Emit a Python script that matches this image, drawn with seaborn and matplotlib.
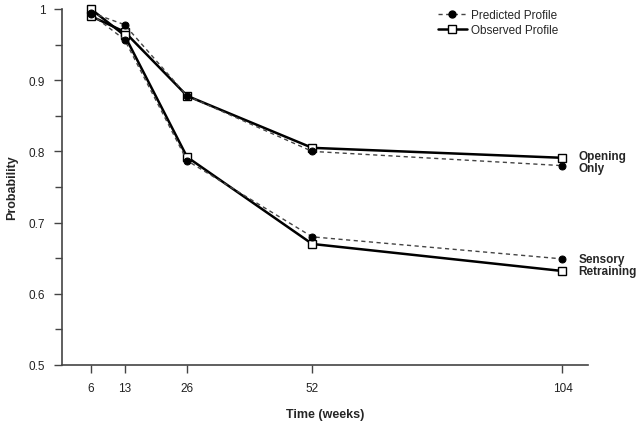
import matplotlib
matplotlib.use("Agg")
import matplotlib.pyplot as plt
from matplotlib.lines import Line2D
from matplotlib.ticker import MultipleLocator
import pandas as pd
import seaborn as sns

weeks = [6, 13, 26, 52, 104]

# Opening Only
opening_observed = [0.990, 0.968, 0.878, 0.805, 0.791]
opening_predicted = [0.995, 0.978, 0.878, 0.800, 0.780]

# Sensory Retraining
sensory_observed = [1.000, 0.963, 0.792, 0.670, 0.632]
sensory_predicted = [0.993, 0.957, 0.787, 0.680, 0.649]

group_labels = ["Opening\nOnly", "Sensory\nRetraining"]

sns.set_style("ticks")
plt.rcParams['font.family'] = ['Liberation Sans', 'DejaVu Sans']

fig = plt.figure(figsize=(6.42, 4.27), dpi=100)
ax = fig.add_axes([62 / 642, 1 - 366 / 427, (588 - 62) / 642, (366 - 10) / 427])

obs_kw = dict(color="black", linewidth=1.8, marker="s", markersize=5.5,
              markerfacecolor="white", markeredgecolor="black",
              markeredgewidth=1.0, clip_on=False, zorder=3)
pred_kw = dict(color="#444444", linewidth=1.0, linestyle=(0, (3, 2.5)),
               marker="o", markersize=5, markerfacecolor="black",
               markeredgecolor="black", clip_on=False, zorder=4)

for obs, pred in [(opening_observed, opening_predicted),
                  (sensory_observed, sensory_predicted)]:
    df = pd.DataFrame({"weeks": weeks, "obs": obs, "pred": pred})
    sns.lineplot(data=df, x="weeks", y="obs", ax=ax, **obs_kw)
    sns.lineplot(data=df, x="weeks", y="pred", ax=ax, **pred_kw)

ax.set_xlim(0, 109.3)
ax.set_ylim(0.5, 1.0)
ax.set_xticks(weeks)
ax.set_xticklabels([str(w) for w in weeks])
ax.set_yticks([0.5, 0.6, 0.7, 0.8, 0.9, 1.0])
ax.set_yticklabels(["0.5", "0.6", "0.7", "0.8", "0.9", "1"])
ax.yaxis.set_minor_locator(MultipleLocator(0.05))
ax.tick_params(axis="both", which="major", length=6, width=1, color="#444444",
               labelsize=8.5, labelcolor="#222222", pad=6)
ax.tick_params(axis="y", which="minor", length=5, width=1, color="#444444")
for s in ["top", "right"]:
    ax.spines[s].set_visible(False)
for s in ["left", "bottom"]:
    ax.spines[s].set_color("#444444")
    ax.spines[s].set_linewidth(1.2)

ax.set_xlabel("Time (weeks)", fontsize=9, fontweight="bold", labelpad=10)
ax.set_ylabel("Probability", fontsize=9, fontweight="bold", labelpad=8)

# end-of-line group labels
ax.text(107.3, (opening_observed[-1] + opening_predicted[-1]) / 2, group_labels[0],
        fontsize=8.5, fontweight="bold", va="center", ha="left",
        linespacing=1.0, clip_on=False)
ax.text(107.3, (sensory_observed[-1] + sensory_predicted[-1]) / 2, group_labels[1],
        fontsize=8.5, fontweight="bold", va="center", ha="left",
        linespacing=1.0, clip_on=False)

handles = [
    Line2D([], [], **{k: v for k, v in pred_kw.items() if k not in ("clip_on", "zorder")}),
    Line2D([], [], **{k: v for k, v in obs_kw.items() if k not in ("clip_on", "zorder")}),
]
ax.legend(handles, ["Predicted Profile", "Observed Profile"],
          loc="upper left", bbox_to_anchor=(0.695, 1.03), frameon=False,
          fontsize=8.5, handlelength=2.4, handletextpad=0.4, labelspacing=0.3)

fig.savefig("out.png", dpi=100)
